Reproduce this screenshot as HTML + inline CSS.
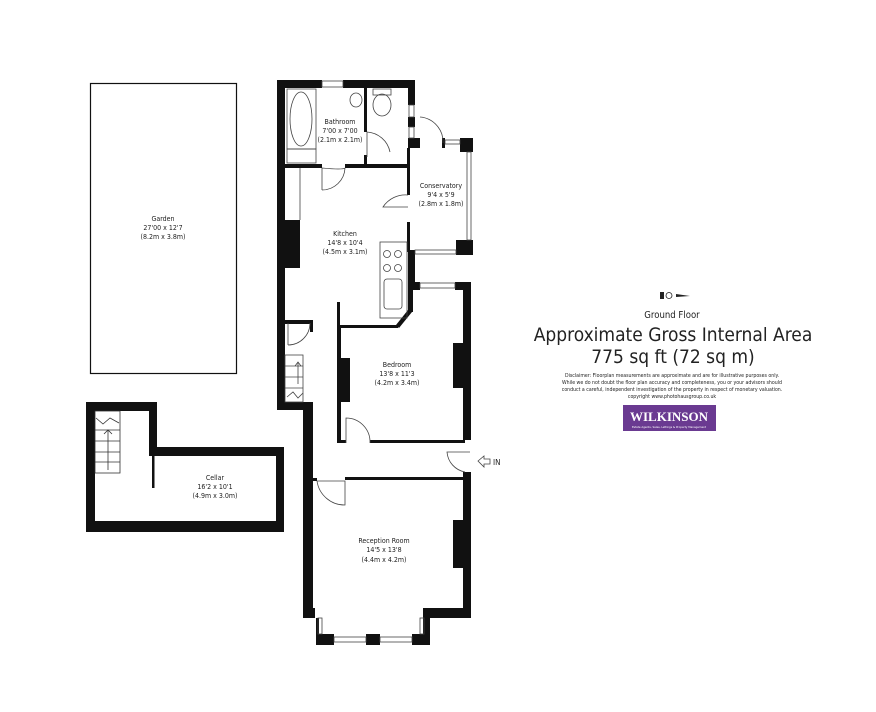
<!DOCTYPE html>
<html><head><meta charset="utf-8"><style>
body{margin:0;background:#fff;width:876px;height:712px;overflow:hidden}
svg{display:block}
text{font-family:"DejaVu Sans Condensed","Liberation Sans",sans-serif;fill:#222}
</style></head><body>
<svg width="876" height="712" viewBox="0 0 876 712" xmlns="http://www.w3.org/2000/svg">
<!-- Garden -->
<rect x="90.5" y="83.5" width="146" height="290" fill="none" stroke="#111" stroke-width="1.2"/>
<text x="163" y="221" font-size="7" text-anchor="middle">Garden</text>
<text x="163" y="230" font-size="7" text-anchor="middle">27'00 x 12'7</text>
<text x="163" y="239" font-size="7" text-anchor="middle">(8.2m x 3.8m)</text>

<!-- Cellar -->
<g fill="#111">
<rect x="86" y="402" width="71" height="9"/>
<rect x="86" y="402" width="9" height="130"/>
<rect x="149" y="402" width="8" height="54"/>
<rect x="149" y="447" width="135" height="9"/>
<rect x="276" y="447" width="8" height="85"/>
<rect x="86" y="521" width="198" height="11"/>
<rect x="152" y="456" width="2.5" height="32"/>
</g>
<g stroke="#333" stroke-width="0.8" fill="none">
<rect x="95" y="411" width="25" height="62"/>
<line x1="95" y1="430" x2="120" y2="430"/><line x1="95" y1="441" x2="120" y2="441"/><line x1="95" y1="452" x2="120" y2="452"/><line x1="95" y1="462" x2="120" y2="462"/>
<line x1="108" y1="430" x2="108" y2="470"/><polyline points="104,434 108,430 112,434"/>
<polyline points="96,418 103,424 110,418 119,423"/>
</g>
<text x="215" y="480" font-size="7" text-anchor="middle">Cellar</text>
<text x="215" y="489" font-size="7" text-anchor="middle">16'2 x 10'1</text>
<text x="215" y="498" font-size="7" text-anchor="middle">(4.9m x 3.0m)</text>

<!-- Main building walls -->
<g fill="#111">
<!-- top wall -->
<rect x="277" y="80" width="45" height="8"/>
<rect x="343" y="80" width="72" height="8"/>
<!-- left outer -->
<rect x="277" y="80" width="8" height="330"/>
<rect x="285" y="220" width="15" height="48"/>
<rect x="277" y="402" width="36" height="8"/>
<rect x="303" y="402" width="10" height="216"/>
<!-- right upper -->
<rect x="408" y="80" width="7" height="25"/>
<rect x="408" y="117" width="7" height="10"/>
<rect x="408" y="138" width="12" height="10"/>
<rect x="407" y="148" width="3" height="47"/>
<rect x="407" y="222" width="3" height="30"/>
<rect x="408" y="250" width="7" height="40"/>
<!-- conservatory -->
<rect x="442" y="138" width="3" height="10"/>
<rect x="460" y="138" width="13" height="14"/>
<rect x="456" y="240" width="17" height="15"/>
<!-- bathroom -->
<rect x="285" y="164" width="37" height="4"/>
<rect x="345" y="164" width="63" height="4"/>
<rect x="364" y="88" width="3" height="44"/>
<rect x="364" y="155" width="3" height="10"/>
<!-- stair box -->
<rect x="285" y="320" width="28" height="4"/>
<rect x="310" y="320" width="3" height="12"/>
<!-- bedroom -->
<rect x="415" y="282" width="5" height="8"/>
<rect x="455" y="282" width="16" height="8"/>
<rect x="463" y="282" width="8" height="158"/>
<rect x="453" y="343" width="10" height="45"/>
<rect x="337" y="327" width="4" height="116"/>
<rect x="341" y="358" width="9" height="44"/>
<rect x="337" y="440" width="9" height="3"/>
<rect x="370" y="440" width="95" height="3"/>
<rect x="337" y="302" width="3" height="25"/>
<rect x="338" y="325" width="60" height="3"/>
<polygon points="396,325 408,310 412,312 399,328"/>
<rect x="408" y="290" width="5" height="22"/>
<!-- hall/reception -->
<rect x="463" y="472" width="8" height="146"/>
<rect x="313" y="478" width="4" height="3"/>
<rect x="345" y="477" width="120" height="3"/>
<rect x="453" y="520" width="10" height="48"/>
<rect x="303" y="608" width="12" height="10"/>
<rect x="423" y="608" width="48" height="10"/>
<rect x="316" y="634" width="18" height="11"/>
<rect x="366" y="634" width="14" height="11"/>
<rect x="412" y="634" width="18" height="11"/>
<rect x="423" y="618" width="7" height="16"/>
<rect x="316" y="618" width="3" height="16"/>
</g>
<g stroke="#444" stroke-width="0.8" fill="none">
<!-- windows -->
<rect x="322" y="81" width="21" height="6"/>
<rect x="409" y="105" width="5" height="12"/><rect x="409" y="127" width="5" height="11"/>
<rect x="445" y="140" width="15" height="4"/>
<rect x="467" y="152" width="4" height="88"/>
<rect x="415" y="250" width="41" height="4"/>
<rect x="420" y="283" width="35" height="5"/>
<rect x="334" y="637" width="32" height="5"/><rect x="380" y="637" width="32" height="5"/>
<rect x="318" y="618" width="4" height="16"/><rect x="420" y="618" width="4" height="16"/>
<!-- bath -->
<rect x="287" y="89" width="29" height="60"/>
<ellipse cx="301" cy="119" rx="11" ry="27"/>
<rect x="287" y="149" width="29" height="14"/>
<ellipse cx="356" cy="100" rx="6" ry="7"/>
<rect x="373" y="89" width="18" height="6"/>
<ellipse cx="382" cy="105" rx="9" ry="11"/>
<!-- counter -->
<rect x="380" y="242" width="27" height="76"/>
<circle cx="387" cy="254" r="3.5"/><circle cx="398" cy="254" r="3.5"/>
<circle cx="387" cy="268" r="3.5"/><circle cx="398" cy="268" r="3.5"/>
<rect x="384" y="279" width="18" height="30" rx="3"/>
<!-- doors -->
<path d="M367 132 L367 157 M367 132 A25 25 0 0 1 390 152"/>
<path d="M322 168 L322 190 M322 168 Q343 170 345 168 M345 168 A23 23 0 0 1 322 190"/>
<path d="M408 195 A27 27 0 0 0 383 207 L408 207"/>
<path d="M420 117 A25 25 0 0 1 443 143"/>
<path d="M288 323 L288 345 M288 345 A22 22 0 0 0 310 323"/>
<path d="M346 443 L346 418 A24 24 0 0 1 370 443"/>
<path d="M470 452 L447 452 A22 22 0 0 0 465 472"/>
<path d="M317 481 L345 481 L345 505 A28 28 0 0 1 317 481"/>
<line x1="300" y1="168" x2="300" y2="220"/>
<!-- hall stairs -->
<rect x="285" y="355" width="18" height="47"/>
<line x1="285" y1="366" x2="303" y2="366"/><line x1="285" y1="377" x2="303" y2="377"/><line x1="285" y1="388" x2="303" y2="388"/>
<line x1="298" y1="362" x2="298" y2="384"/><polyline points="295,366 298,362 301,366"/>
<polyline points="287,397 293,392 298,398 303,393"/>
<!-- IN arrow -->
<polygon points="478,461 484,456 484,459 490,459 490,464 484,464 484,467"/>
</g>
<text x="493" y="465" font-size="8">IN</text>

<g font-size="7" text-anchor="middle">
<text x="340" y="124">Bathroom</text><text x="340" y="133">7'00 x 7'00</text><text x="340" y="142">(2.1m x 2.1m)</text>
<text x="441" y="188">Conservatory</text><text x="441" y="197">9'4 x 5'9</text><text x="441" y="206">(2.8m x 1.8m)</text>
<text x="345" y="236">Kitchen</text><text x="345" y="245">14'8 x 10'4</text><text x="345" y="254">(4.5m x 3.1m)</text>
<text x="397" y="367">Bedroom</text><text x="397" y="376">13'8 x 11'3</text><text x="397" y="385">(4.2m x 3.4m)</text>
<text x="384" y="543">Reception Room</text><text x="384" y="552">14'5 x 13'8</text><text x="384" y="562">(4.4m x 4.2m)</text>
</g>

<!-- right info -->
<g fill="#222"><rect x="660" y="292" width="4" height="7"/><polygon points="676,294 690,296 676,297"/></g>
<circle cx="669" cy="295.5" r="3" fill="none" stroke="#222" stroke-width="0.8"/>
<text x="672" y="318" font-size="9.5" text-anchor="middle">Ground Floor</text>
<text x="673" y="341" font-size="19" text-anchor="middle">Approximate Gross Internal Area</text>
<text x="673" y="363" font-size="19" text-anchor="middle">775 sq ft (72 sq m)</text>
<g font-size="5.2" text-anchor="middle">
<text x="672" y="377">Disclaimer: Floorplan measurements are approximate and are for illustrative purposes only.</text>
<text x="672" y="384">While we do not doubt the floor plan accuracy and completeness, you or your advisors should</text>
<text x="672" y="391">conduct a careful, independent investigation of the property in respect of monetary valuation.</text>
<text x="672" y="398">copyright www.photohausgroup.co.uk</text>
</g>
<rect x="623" y="405" width="93" height="26" fill="#6a3a91"/>
<text x="669" y="421" font-size="13" font-weight="bold" text-anchor="middle" style="fill:#fff;font-family:'Liberation Serif',serif">WILKINSON</text>
<text x="669" y="428" font-size="3" text-anchor="middle" style="fill:#fff">Estate Agents, Sales, Lettings &amp; Property Management</text>
</svg>
</body></html>
